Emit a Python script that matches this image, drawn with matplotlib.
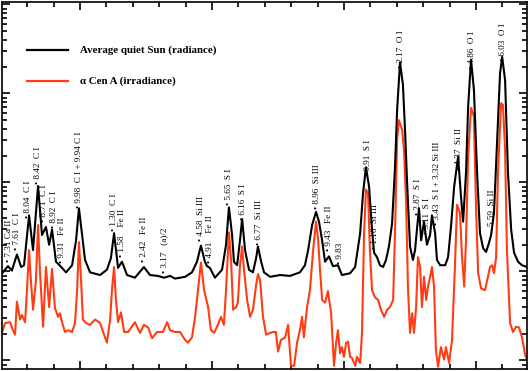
import numpy as np
import matplotlib
matplotlib.use("Agg")
import matplotlib.pyplot as plt
from matplotlib.ticker import MultipleLocator, LogLocator, NullFormatter

# wavelength (A) and log10 intensity (arbitrary units)
sun_wl = [1287.08, 1287.27, 1287.42, 1287.61, 1287.77, 1287.88, 1288.07, 1288.22, 1288.41, 1288.56,
          1288.71, 1288.83, 1288.94, 1289.09, 1289.32, 1289.47, 1289.70, 1289.85, 1289.96, 1290.08,
          1290.19, 1290.38, 1290.76, 1291.02, 1291.17, 1291.29, 1291.44, 1291.59, 1291.78, 1292.08,
          1292.42, 1292.65, 1292.95, 1293.18, 1293.41, 1293.60, 1293.98, 1294.24, 1294.43, 1294.58,
          1294.73, 1294.81, 1294.92, 1295.11, 1295.38, 1295.53, 1295.64, 1295.76, 1295.83, 1295.95,
          1296.06, 1296.14, 1296.25, 1296.40, 1296.55, 1296.67, 1296.74, 1296.86, 1296.97, 1297.20,
          1297.58, 1297.95, 1298.33, 1298.52, 1298.64, 1298.79, 1298.94, 1299.05, 1299.17, 1299.28,
          1299.43, 1299.58, 1299.77, 1299.92, 1300.23, 1300.42, 1300.61, 1300.72, 1300.83, 1300.95,
          1301.06, 1301.14, 1301.25, 1301.36, 1301.48, 1301.59, 1301.70, 1301.82, 1301.93, 1302.01,
          1302.12, 1302.23, 1302.31, 1302.39, 1302.50, 1302.61, 1302.69, 1302.77, 1302.84, 1302.92,
          1303.03, 1303.14, 1303.26, 1303.33, 1303.45, 1303.52, 1303.64, 1303.83, 1303.94, 1304.05,
          1304.17, 1304.32, 1304.43, 1304.51, 1304.62, 1304.70, 1304.81, 1304.92, 1305.04, 1305.15,
          1305.27, 1305.38, 1305.49, 1305.57, 1305.68, 1305.80, 1305.91, 1305.99, 1306.10, 1306.21,
          1306.33, 1306.44, 1306.59, 1306.74, 1306.93]
sun_log = [-1.01, -0.94, -0.99, -0.81, -0.95, -0.93, -0.37, -0.76, -0.04, -0.59,
           -0.50, -0.70, -0.53, -0.89, -0.96, -1.01, -0.93, -0.65, -0.29, -0.59,
           -0.87, -1.01, -1.04, -0.98, -0.85, -0.57, -0.96, -0.89, -1.04, -1.07,
           -0.95, -1.04, -1.05, -1.07, -1.05, -1.08, -1.06, -1.01, -0.89, -0.71,
           -0.89, -0.94, -0.96, -1.07, -0.98, -0.70, -0.28, -0.59, -0.89, -0.93,
           -0.65, -0.41, -0.76, -0.98, -1.01, -0.85, -0.72, -0.89, -1.01, -1.06,
           -1.04, -1.05, -1.01, -0.93, -0.76, -0.48, -0.33, -0.44, -0.65, -0.89,
           -0.83, -0.94, -0.93, -1.04, -1.02, -0.95, -0.57, -0.12, 0.17, -0.05,
           -0.53, -0.79, -0.84, -0.93, -0.95, -0.87, -0.72, -0.46, 0.17, 0.81,
           1.35, 1.10, 0.59, -0.01, -0.72, -0.87, -0.76, -0.50, -0.29, -0.65,
           -0.44, -0.70, -0.59, -0.37, -0.57, -0.87, -0.93, -0.93, -0.84, -0.50,
           -0.05, 0.29, -0.16, -0.44, 0.11, 0.85, 1.38, 1.04, 0.11, -0.57,
           -0.74, -0.78, -0.68, -0.59, -0.34, 0.48, 1.23, 1.41, 1.15, 0.11,
           -0.53, -0.79, -0.89, -0.93, -0.95]

acen_wl = [1287.05, 1287.16, 1287.35, 1287.46, 1287.54, 1287.61, 1287.73, 1287.80, 1287.92, 1287.99,
           1288.07, 1288.14, 1288.22, 1288.33, 1288.41, 1288.48, 1288.60, 1288.71, 1288.83, 1288.94,
           1289.05, 1289.17, 1289.24, 1289.32, 1289.43, 1289.55, 1289.70, 1289.81, 1289.89, 1289.96,
           1290.04, 1290.11, 1290.23, 1290.38, 1290.57, 1290.76, 1290.91, 1291.02, 1291.14, 1291.21,
           1291.29, 1291.36, 1291.44, 1291.55, 1291.67, 1291.82, 1292.08, 1292.27, 1292.42, 1292.58,
           1292.73, 1292.92, 1293.14, 1293.30, 1293.41, 1293.60, 1293.79, 1293.98, 1294.09, 1294.24,
           1294.36, 1294.47, 1294.58, 1294.70, 1294.85, 1294.96, 1295.08, 1295.19, 1295.34, 1295.45,
           1295.53, 1295.64, 1295.72, 1295.80, 1295.91, 1295.98, 1296.06, 1296.14, 1296.21, 1296.33,
           1296.44, 1296.55, 1296.67, 1296.74, 1296.82, 1296.93, 1297.05, 1297.20, 1297.31, 1297.42,
           1297.50, 1297.61, 1297.77, 1297.88, 1297.99, 1298.11, 1298.22, 1298.33, 1298.41, 1298.48,
           1298.60, 1298.71, 1298.83, 1298.94, 1299.02, 1299.09, 1299.17, 1299.28, 1299.39, 1299.51,
           1299.62, 1299.70, 1299.77, 1299.85, 1299.92, 1300.00, 1300.08, 1300.15, 1300.23, 1300.30,
           1300.42, 1300.49, 1300.61, 1300.68, 1300.76, 1300.83, 1300.91, 1300.98, 1301.06, 1301.17,
           1301.29, 1301.40, 1301.52, 1301.63, 1301.74, 1301.86, 1301.93, 1302.01, 1302.08, 1302.20,
           1302.27, 1302.35, 1302.42, 1302.50, 1302.58, 1302.65, 1302.73, 1302.80, 1302.88, 1302.95,
           1303.03, 1303.11, 1303.18, 1303.26, 1303.33, 1303.41, 1303.48, 1303.56, 1303.67, 1303.79,
           1303.86, 1303.98, 1304.09, 1304.20, 1304.28, 1304.39, 1304.47, 1304.55, 1304.62, 1304.70,
           1304.81, 1304.92, 1305.00, 1305.08, 1305.19, 1305.34, 1305.45, 1305.53, 1305.61, 1305.68,
           1305.76, 1305.83, 1305.95, 1306.02, 1306.10, 1306.17, 1306.29, 1306.40, 1306.52, 1306.63,
           1306.74, 1306.86, 1306.93]
acen_log = [-1.68, -1.58, -1.57, -1.66, -1.71, -1.34, -1.54, -1.49, -1.57, -1.21,
            -0.76, -1.10, -1.43, -1.10, -0.48, -0.98, -1.62, -0.95, -1.40, -0.97,
            -1.41, -1.51, -1.47, -1.57, -1.68, -1.66, -1.68, -1.58, -1.21, -0.67,
            -1.10, -1.54, -1.58, -1.60, -1.54, -1.58, -1.71, -1.80, -1.54, -1.21,
            -0.95, -1.32, -1.57, -1.46, -1.68, -1.68, -1.57, -1.69, -1.60, -1.63,
            -1.75, -1.68, -1.68, -1.57, -1.66, -1.68, -1.68, -1.77, -1.80, -1.74,
            -1.51, -1.21, -0.90, -1.21, -1.40, -1.66, -1.69, -1.62, -1.51, -1.60,
            -1.21, -0.56, -0.87, -1.43, -1.40, -1.35, -0.93, -0.72, -0.98, -1.32,
            -1.51, -1.43, -1.15, -1.03, -1.10, -1.51, -1.71, -1.69, -1.68, -1.68,
            -1.90, -1.77, -1.74, -1.60, -2.06, -2.06, -1.80, -1.66, -1.51, -1.74,
            -1.40, -1.21, -0.76, -0.44, -0.65, -0.98, -1.32, -1.35, -1.22, -1.47,
            -2.06, -1.80, -1.66, -1.92, -1.85, -1.96, -1.80, -1.79, -1.96, -1.97,
            -2.06, -1.96, -2.03, -1.69, -0.57, -0.08, -0.12, -0.76, -1.21, -1.29,
            -1.32, -1.43, -1.51, -1.43, -1.40, -1.32, -0.57, 0.48, 0.70, 0.59,
            0.37, -0.20, -1.17, -1.69, -1.47, -1.69, -1.40, -0.84, -0.95, -1.40,
            -1.06, -1.32, -1.17, -1.06, -0.95, -1.17, -1.88, -2.07, -1.85, -1.99,
            -1.85, -2.03, -1.77, -0.95, -0.25, -0.34, -0.84, -1.17, -0.65, 0.29,
            0.84, 0.74, -0.28, -1.02, -1.19, -1.21, -1.06, -0.95, -0.93, -1.02,
            -0.84, 0.11, 0.89, 0.87, 0.37, -0.76, -1.58, -1.68, -1.62, -1.63,
            -1.74, -1.94, -1.99]

# line identifications
line_wl = [1287.31, 1287.61, 1288.04, 1288.42, 1288.71, 1288.92, 1289.31, 1289.98,
           1291.30, 1291.58, 1292.42, 1293.17, 1294.58, 1294.91, 1295.65, 1296.16,
           1296.77, 1298.96, 1299.43, 1299.83, 1300.91, 1301.16, 1302.17, 1302.87,
           1303.11, 1303.43, 1304.37, 1304.86, 1305.59, 1306.03]
line_text = ["• 7.31 Ca II", "• 7.61  C I", "• 8.04  C I", "• 8.42  C I", "• 8.71  C I",
             "• 8.92  C I", "• 9.31   Fe II", "• 9.98  C I + 9.94 C I",
             "• 1.30  C I", "• 1.58    Fe II", "• 2.42   Fe II", "• 3.17   (a)/2",
             "• 4.58  Si III", "• 4.91    Fe II", "• 5.65  S I", "• 6.16  S I",
             "• 6.77  Si III", "• 8.96  Si III", "• 9.43   Fe II", "• 9.83",
             "• 0.91  S I", "• 1.16  Si III", "• 2.17  O I", "• 2.87  S I",
             "• 3.11  S I", "• 3.43  S I + 3.32 Si III", "• 4.37  Si II", "• 4.86  O I",
             "5.59  Si II", "• 6.03  O I"]
# small sideways nudges (points) where neighbouring labels crowd
line_dx = [0, 0, 0, 0, -1.6, 1.6, 0, 0,
           0, 0, 0, 0, 0, 0, 0, 0,
           0, 0, 0, 0, 0, 0, 0, -1.6,
           0.6, 1.8, 0, 0, 0, 0]

red = "#ff3c14"
serif = ["Liberation Serif", "DejaVu Serif"]

fig = plt.figure(figsize=(5.29, 3.71), dpi=100)
ax = fig.add_axes([2 / 529, 2 / 371, 525 / 529, 367 / 371])

ax.plot(acen_wl, 10 ** np.array(acen_log), color=red, lw=1.5)
ax.plot(sun_wl, 10 ** np.array(sun_log), color="black", lw=1.5)

ax.set_yscale("log")
ax.set_xlim(1287.045, 1306.93)
ax.set_ylim(10 ** -2.096, 10 ** 2.028)

ax.xaxis.set_major_locator(MultipleLocator(5))
ax.xaxis.set_minor_locator(MultipleLocator(1))
ax.yaxis.set_major_locator(LogLocator(base=10))
ax.yaxis.set_minor_locator(LogLocator(base=10, subs=np.arange(2, 10)))
ax.yaxis.set_minor_formatter(NullFormatter())
ax.tick_params(which="both", direction="in", top=True, right=True,
               labelleft=False, labelbottom=False, width=1.2)
ax.tick_params(which="major", length=6)
ax.tick_params(which="minor", length=3.5)
for sp in ax.spines.values():
    sp.set_linewidth(1.2)

# labels sit just above the quiet Sun curve
for wl, txt, dx in zip(line_wl, line_text, line_dx):
    yv = 10 ** np.interp(wl, sun_wl, sun_log)
    ax.annotate(txt, xy=(wl, yv), xytext=(dx, 3.5), textcoords="offset points",
                rotation=90, ha="center", va="bottom", fontsize=6.6, family=serif)

# legend
ax.plot([0.0476, 0.1257], [0.870, 0.870], transform=ax.transAxes, color="black", lw=1.6)
ax.plot([0.0476, 0.1257], [0.7855, 0.7855], transform=ax.transAxes, color=red, lw=1.6)
ax.text(0.1486, 0.870, "Average quiet Sun (radiance)", transform=ax.transAxes,
        va="center", fontsize=7.8, fontweight="bold", family=serif)
ax.text(0.1486, 0.7855, "α Cen A (irradiance)", transform=ax.transAxes,
        va="center", fontsize=7.8, fontweight="bold", family=serif)

fig.savefig("out.png", dpi=100)
